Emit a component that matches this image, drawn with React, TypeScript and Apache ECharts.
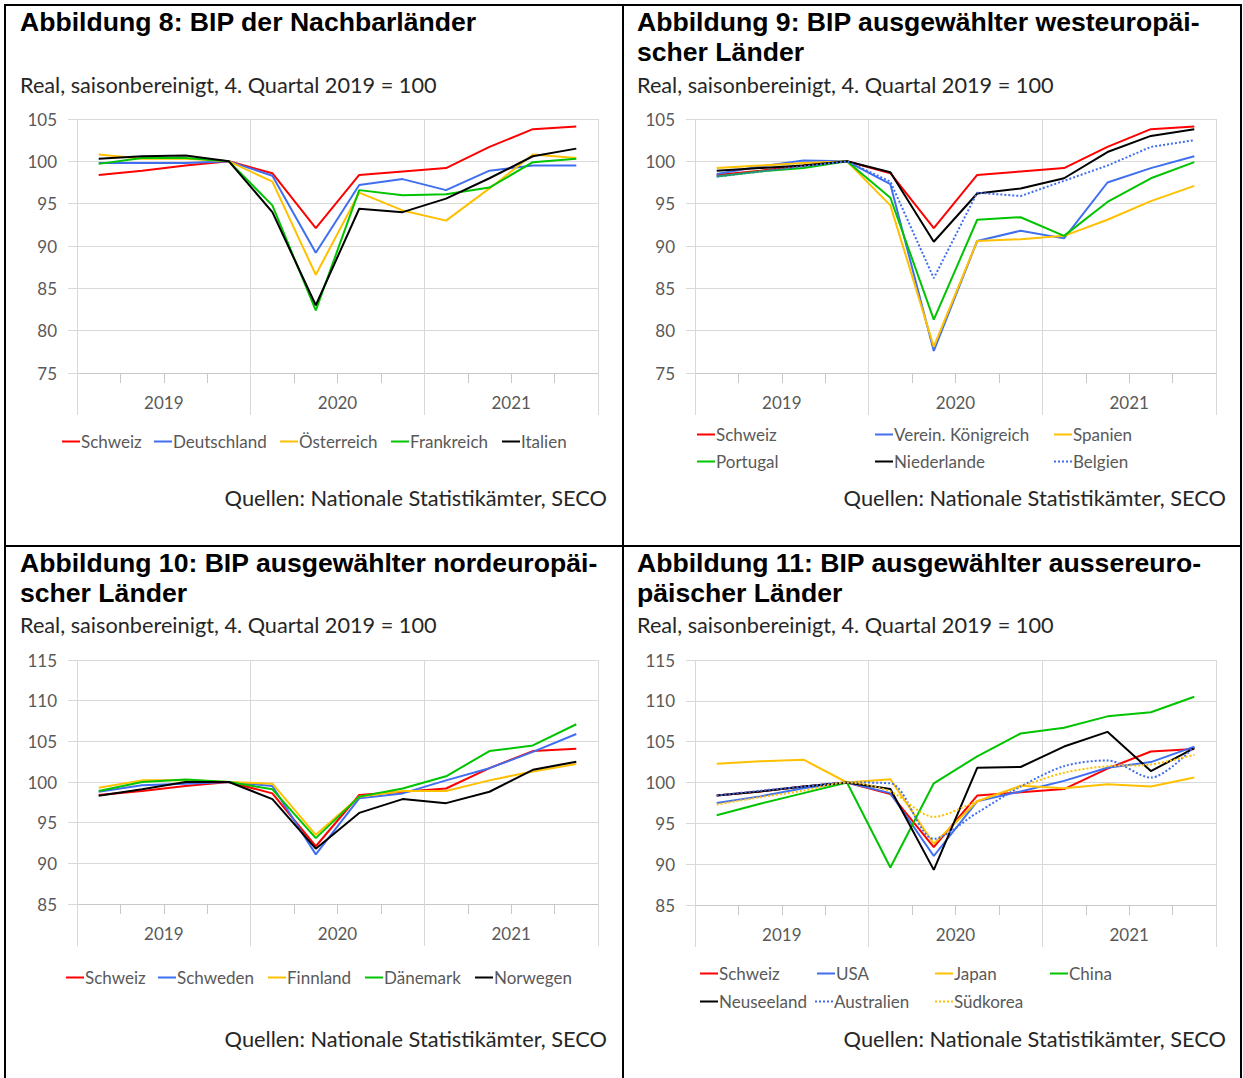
import React, { useEffect, useRef } from "react";
import * as echarts from "echarts";

// ---------- Data ----------
const quarterLabels = [
  "Q1 2019", "Q2 2019", "Q3 2019", "Q4 2019",
  "Q1 2020", "Q2 2020", "Q3 2020", "Q4 2020",
  "Q1 2021", "Q2 2021", "Q3 2021", "Q4 2021",
];
const yearLabels = ["2019", "2020", "2021"];

const schweiz = [98.4, 98.9, 99.5, 100, 98.6, 92.1, 98.4, 98.8, 99.2, 101.7, 103.8, 104.1];

// Abbildung 8
const deutschland = [99.8, 99.8, 99.8, 100, 98.3, 89.2, 97.2, 97.9, 96.6, 98.9, 99.5, 99.5];
const oesterreich = [100.8, 100.3, 100.3, 100, 97.6, 86.6, 96.3, 94.2, 93.0, 96.8, 100.8, 100.4];
const frankreich = [99.7, 100.4, 100.4, 100, 94.8, 82.4, 96.6, 96.0, 96.1, 96.9, 99.9, 100.3];
const italien = [100.3, 100.6, 100.7, 100, 94.0, 83.0, 94.4, 94.0, 95.6, 98.0, 100.6, 101.5];

// Abbildung 9
const vereinKoenigreich = [98.5, 99.4, 100.1, 100, 97.3, 77.6, 90.6, 91.8, 90.9, 97.5, 99.2, 100.6];
const spanien = [99.2, 99.5, 99.8, 100, 94.8, 78.1, 90.6, 90.8, 91.2, 93.1, 95.3, 97.1];
const portugal = [98.2, 98.8, 99.2, 100, 95.7, 81.3, 93.1, 93.4, 91.2, 95.2, 98.0, 99.9];
const niederlande = [98.9, 99.2, 99.5, 100, 98.7, 90.5, 96.2, 96.8, 98.0, 101.1, 103.0, 103.8];
const belgien = [98.2, 98.8, 99.4, 100, 97.6, 86.2, 96.3, 95.9, 97.7, 99.5, 101.7, 102.5];

// Abbildung 10
const schweden = [98.8, 99.6, 99.8, 100, 99.5, 91.1, 98.0, 98.6, 100.2, 101.7, 103.7, 105.9];
const finnland = [99.3, 100.2, 100.2, 100, 99.8, 93.5, 98.2, 98.9, 98.9, 100.2, 101.3, 102.2];
const daenemark = [98.9, 100.0, 100.3, 100, 99.1, 93.1, 98.2, 99.2, 100.7, 103.8, 104.5, 107.1];
const norwegen = [98.3, 99.1, 100.0, 100, 97.9, 91.8, 96.2, 97.9, 97.4, 98.8, 101.5, 102.5];

// Abbildung 11
const usa = [97.5, 98.3, 99.3, 100, 98.7, 91.0, 97.7, 98.9, 100.2, 101.8, 102.5, 104.4];
const japan = [102.3, 102.6, 102.8, 100, 100.4, 92.5, 97.7, 99.6, 99.3, 99.8, 99.5, 100.6];
const china = [96.0, 97.4, 98.7, 100, 89.6, 99.9, 103.2, 106.0, 106.7, 108.1, 108.6, 110.5];
const neuseeland = [98.4, 98.9, 99.5, 100, 99.2, 89.3, 101.8, 101.9, 104.4, 106.2, 101.4, 104.2];
const australien = [98.4, 99.0, 99.5, 100, 99.9, 93.1, 96.3, 99.5, 102.0, 102.7, 100.6, 104.4];
const suedkorea = [97.3, 98.2, 99.0, 100, 98.9, 95.8, 97.7, 99.5, 101.2, 102.0, 102.2, 103.4];

// ---------- Styling ----------
const RED = "#FF0000";
const BLUE = "#3F6FF0";
const YELLOW = "#FFC000";
const GREEN = "#00C400";
const BLACK = "#000000";

const BODY_FONT = "Lato, 'Open Sans', sans-serif";
const TITLE_FONT = "'Liberation Sans', Arial, sans-serif";
const AXIS_COLOR = "#595959";
const GRID_COLOR = "#D9D9D9";
const TICK_COLOR = "#C8C8C8";

const SOLID_ICON = "rect";
const DOTTED_ICON =
  "path://M0 0h2v2H0z M4 0h2v2H4z M8 0h2v2H8z M12 0h2v2h-2z M16 0h2v2h-2z";

type S = { name: string; data: number[]; color: string; dotted?: boolean; smooth?: boolean };
type L = { name: string; x: number; y: number };
type Panel = {
  titleLines: string[];
  tx: number;
  titleY: number;
  subY: number;
  srcX: number;
  srcY: number;
  grid: { left: number; top: number; width: number; height: number };
  yMin: number;
  yMax: number;
  series: S[];
  legend: L[];
};

const panels: Panel[] = [
  {
    titleLines: ["Abbildung 8: BIP der Nachbarländer"],
    tx: 20, titleY: 22, subY: 86, srcX: 607, srcY: 497,
    grid: { left: 77, top: 119, width: 521, height: 254 },
    yMin: 75, yMax: 105,
    series: [
      { name: "Schweiz", data: schweiz, color: RED },
      { name: "Deutschland", data: deutschland, color: BLUE },
      { name: "Österreich", data: oesterreich, color: YELLOW },
      { name: "Frankreich", data: frankreich, color: GREEN },
      { name: "Italien", data: italien, color: BLACK },
    ],
    legend: [
      { name: "Schweiz", x: 62, y: 441 },
      { name: "Deutschland", x: 154, y: 441 },
      { name: "Österreich", x: 280, y: 441 },
      { name: "Frankreich", x: 391, y: 441 },
      { name: "Italien", x: 502, y: 441 },
    ],
  },
  {
    titleLines: ["Abbildung 9: BIP ausgewählter westeuropäi-", "scher Länder"],
    tx: 637, titleY: 22, subY: 86, srcX: 1226, srcY: 497,
    grid: { left: 695, top: 119, width: 521, height: 254 },
    yMin: 75, yMax: 105,
    series: [
      { name: "Schweiz", data: schweiz, color: RED },
      { name: "Verein. Königreich", data: vereinKoenigreich, color: BLUE },
      { name: "Spanien", data: spanien, color: YELLOW },
      { name: "Portugal", data: portugal, color: GREEN },
      { name: "Niederlande", data: niederlande, color: BLACK },
      { name: "Belgien", data: belgien, color: BLUE, dotted: true },
    ],
    legend: [
      { name: "Schweiz", x: 697, y: 434 },
      { name: "Verein. Königreich", x: 875, y: 434 },
      { name: "Spanien", x: 1054, y: 434 },
      { name: "Portugal", x: 697, y: 461 },
      { name: "Niederlande", x: 875, y: 461 },
      { name: "Belgien", x: 1054, y: 461 },
    ],
  },
  {
    titleLines: ["Abbildung 10: BIP ausgewählter nordeuropäi-", "scher Länder"],
    tx: 20, titleY: 563, subY: 626, srcX: 607, srcY: 1038,
    grid: { left: 77, top: 660, width: 521, height: 244 },
    yMin: 85, yMax: 115,
    series: [
      { name: "Schweiz", data: schweiz, color: RED },
      { name: "Schweden", data: schweden, color: BLUE },
      { name: "Finnland", data: finnland, color: YELLOW },
      { name: "Dänemark", data: daenemark, color: GREEN },
      { name: "Norwegen", data: norwegen, color: BLACK },
    ],
    legend: [
      { name: "Schweiz", x: 66, y: 977 },
      { name: "Schweden", x: 158, y: 977 },
      { name: "Finnland", x: 268, y: 977 },
      { name: "Dänemark", x: 365, y: 977 },
      { name: "Norwegen", x: 475, y: 977 },
    ],
  },
  {
    titleLines: ["Abbildung 11: BIP ausgewählter aussereuro-", "päischer Länder"],
    tx: 637, titleY: 563, subY: 626, srcX: 1226, srcY: 1038,
    grid: { left: 695, top: 660, width: 521, height: 245 },
    yMin: 85, yMax: 115,
    series: [
      { name: "Schweiz", data: schweiz, color: RED },
      { name: "USA", data: usa, color: BLUE },
      { name: "Japan", data: japan, color: YELLOW },
      { name: "China", data: china, color: GREEN },
      { name: "Neuseeland", data: neuseeland, color: BLACK },
      { name: "Australien", data: australien, color: BLUE, dotted: true, smooth: true },
      { name: "Südkorea", data: suedkorea, color: YELLOW, dotted: true, smooth: true },
    ],
    legend: [
      { name: "Schweiz", x: 700, y: 973 },
      { name: "USA", x: 817, y: 973 },
      { name: "Japan", x: 935, y: 973 },
      { name: "China", x: 1050, y: 973 },
      { name: "Neuseeland", x: 700, y: 1001 },
      { name: "Australien", x: 815, y: 1001 },
      { name: "Südkorea", x: 935, y: 1001 },
    ],
  },
];

const SUBTITLE = "Real, saisonbereinigt, 4. Quartal 2019 = 100";
const SOURCE = "Quellen: Nationale Statistikämter, SECO";

function buildOption() {
  const grid: any[] = [];
  const xAxis: any[] = [];
  const yAxis: any[] = [];
  const series: any[] = [];
  const legend: any[] = [];
  const graphic: any[] = [];

  panels.forEach((p, i) => {
    grid.push({ ...p.grid, containLabel: false });
    // quarter axis
    xAxis.push({
      type: "category",
      gridIndex: i,
      data: quarterLabels,
      boundaryGap: true,
      position: "bottom",
      axisLine: { show: true, lineStyle: { color: TICK_COLOR, width: 1 } },
      axisTick: { show: true, interval: 0, length: 10, lineStyle: { color: TICK_COLOR } },
      axisLabel: { show: false },
      splitLine: { show: false },
    });
    // year axis
    xAxis.push({
      type: "category",
      gridIndex: i,
      data: yearLabels,
      boundaryGap: true,
      position: "bottom",
      axisLine: { show: false },
      axisTick: { show: true, interval: 0, length: 42, lineStyle: { color: GRID_COLOR } },
      axisLabel: {
        show: true,
        interval: 0,
        margin: 21,
        color: AXIS_COLOR,
        fontFamily: BODY_FONT,
        fontSize: 17,
      },
      splitLine: { show: true, interval: 0, lineStyle: { color: GRID_COLOR, width: 1 } },
    });
    yAxis.push({
      type: "value",
      gridIndex: i,
      min: p.yMin,
      max: p.yMax,
      interval: 5,
      axisLine: { show: false },
      axisTick: { show: true, length: 9, lineStyle: { color: GRID_COLOR } },
      axisLabel: {
        margin: 20,
        color: AXIS_COLOR,
        fontFamily: BODY_FONT,
        fontSize: 17,
      },
      splitLine: { show: true, lineStyle: { color: GRID_COLOR, width: 1 } },
    });

    p.series.forEach((s) => {
      series.push({
        type: "line",
        name: s.name,
        xAxisIndex: i * 2,
        yAxisIndex: i,
        data: s.data,
        symbol: "none",
        showSymbol: false,
        smooth: s.smooth ? 0.3 : false,
        lineStyle: { color: s.color, width: 2, type: s.dotted ? "dotted" : "solid" },
        itemStyle: { color: s.color },
      });
    });

    p.legend.forEach((l) => {
      const s = p.series.find((x) => x.name === l.name)!;
      legend.push({
        show: true,
        data: [{ name: l.name, icon: s.dotted ? DOTTED_ICON : SOLID_ICON, itemStyle: { color: s.color } }],
        left: l.x,
        top: l.y - 8,
        padding: 0,
        itemWidth: 18,
        itemHeight: 2,
        selectedMode: false,
        textStyle: {
          fontFamily: BODY_FONT,
          fontSize: 17,
          color: AXIS_COLOR,
          padding: [0, 0, 0, -4],
        },
      });
    });

    p.titleLines.forEach((t, k) => {
      graphic.push({
        type: "text",
        x: p.tx,
        y: p.titleY + k * 30,
        style: {
          text: t,
          fill: "#000",
          fontFamily: TITLE_FONT,
          fontWeight: "bold",
          fontSize: 26.6,
          align: "left",
          verticalAlign: "middle",
        },
      });
    });
    graphic.push({
      type: "text",
      x: p.tx,
      y: p.subY - 1,
      style: {
        text: SUBTITLE,
        fill: "#262626",
        fontFamily: BODY_FONT,
        fontSize: 21.7,
        align: "left",
        verticalAlign: "middle",
      },
    });
    graphic.push({
      type: "text",
      x: p.srcX,
      y: p.srcY,
      style: {
        text: SOURCE,
        fill: "#262626",
        fontFamily: BODY_FONT,
        fontSize: 21.8,
        align: "right",
        verticalAlign: "middle",
      },
    });
  });

  // panel borders
  const border = (x1: number, y1: number, x2: number, y2: number) => ({
    type: "line",
    shape: { x1, y1, x2, y2 },
    style: { stroke: "#000", lineWidth: 2 },
    silent: true,
  });
  graphic.push(border(5, 4, 5, 1078));
  graphic.push(border(4, 5, 1242, 5));
  graphic.push(border(623, 4, 623, 1078));
  graphic.push(border(4, 546, 1242, 546));
  graphic.push(border(1241, 4, 1241, 1078));

  return {
    animation: false,
    backgroundColor: "#ffffff",
    grid,
    xAxis,
    yAxis,
    series,
    legend,
    graphic,
  };
}

export default function App() {
  const ref = useRef<HTMLDivElement>(null);
  useEffect(() => {
    if (!ref.current) return;
    const chart = echarts.init(ref.current, null, { renderer: "svg" });
    chart.setOption(buildOption() as any);
    return () => chart.dispose();
  }, []);
  return (
    <div
      ref={ref}
      style={{ position: "absolute", left: 0, top: 0, width: 1243, height: 1078, background: "#fff" }}
    />
  );
}
